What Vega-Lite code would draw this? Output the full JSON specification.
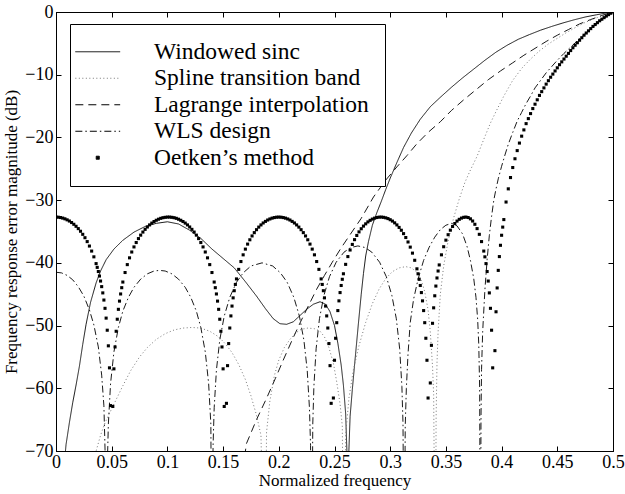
{
"$schema":"https://vega.github.io/schema/vega-lite/v6.json",
"width":557,"height":439,"autosize":"none",
"padding":{"left":56,"top":12,"right":12,"bottom":43},
"config":{
 "font":"Liberation Serif",
 "view":{"stroke":"black","strokeWidth":1},
 "axis":{"grid":false,"domainColor":"black","tickColor":"black","labelColor":"black","titleColor":"black","labelFont":"Liberation Serif","titleFont":"Liberation Serif","labelFontSize":18,"titleFontSize":17,"titleFontWeight":"normal","tickSize":-5,"labelFlush":false,"labelOverlap":false},
 "legend":{"orient":"none","legendX":14,"legendY":12,"padding":16,"strokeColor":"black","fillColor":"white","labelFont":"Liberation Serif","labelFontSize":23.5,"labelColor":"black","labelLimit":400,"labelOffset":44.5,"rowPadding":1.5,"symbolSize":31.4,"symbolStrokeWidth":1,"symbolFillColor":"black"}
},
"layer":[
 {
  "encoding":{
   "x":{"field":"f","type":"quantitative","scale":{"domain":[0,0.5]},"axis":{"orient":"bottom","values":[0,0.05,0.1,0.15,0.2,0.25,0.3,0.35,0.4,0.45,0.5],"format":"~g","title":"Normalized frequency","labelPadding":7,"titlePadding":1}},
   "y":{"field":"v","type":"quantitative","scale":{"domain":[-70,0]},"axis":{"orient":"left","values":[-70,-60,-50,-40,-30,-20,-10,0],"title":"Frequency response error magnitude (dB)","labelPadding":8,"titlePadding":4}}
  },
  "layer":[
   {
    "data":{"values":[{"f":0.005,"v":-78},{"f":0.0075,"v":-72},{"f":0.009,"v":-69},{"f":0.012,"v":-65.5},{"f":0.015,"v":-62.3},{"f":0.018,"v":-59.5},{"f":0.021,"v":-56.5},{"f":0.024,"v":-53},{"f":0.027,"v":-49.8},{"f":0.031,"v":-46.3},{"f":0.036,"v":-43.2},{"f":0.04,"v":-41.3},{"f":0.045,"v":-39.5},{"f":0.052,"v":-37.8},{"f":0.06,"v":-36.4},{"f":0.07,"v":-35.1},{"f":0.08,"v":-34.2},{"f":0.09,"v":-33.7},{"f":0.1,"v":-33.45},{"f":0.11,"v":-33.8},{"f":0.12,"v":-34.8},{"f":0.13,"v":-36.1},{"f":0.14,"v":-37.8},{"f":0.15,"v":-39.3},{"f":0.16,"v":-40.8},{"f":0.17,"v":-43},{"f":0.18,"v":-45.3},{"f":0.188,"v":-47.3},{"f":0.195,"v":-48.9},{"f":0.201,"v":-49.7},{"f":0.207,"v":-49.8},{"f":0.213,"v":-49.4},{"f":0.219,"v":-48.4},{"f":0.225,"v":-47.4},{"f":0.231,"v":-46.6},{"f":0.237,"v":-46.2},{"f":0.242,"v":-46.6},{"f":0.246,"v":-47.8},{"f":0.25,"v":-50},{"f":0.253,"v":-52.8},{"f":0.256,"v":-56.3},{"f":0.258,"v":-59.5},{"f":0.26,"v":-64},{"f":0.2615,"v":-72},{"f":0.262,"v":-95},{"f":0.2625,"v":-72},{"f":0.264,"v":-64.5},{"f":0.266,"v":-60.2},{"f":0.268,"v":-56.3},{"f":0.2715,"v":-49.6},{"f":0.274,"v":-45},{"f":0.276,"v":-41.7},{"f":0.278,"v":-38.9},{"f":0.2805,"v":-36.6},{"f":0.284,"v":-34},{"f":0.288,"v":-32},{"f":0.292,"v":-30.2},{"f":0.296,"v":-28.3},{"f":0.3,"v":-26.5},{"f":0.306,"v":-24},{"f":0.312,"v":-21.6},{"f":0.319,"v":-19.3},{"f":0.327,"v":-17.1},{"f":0.336,"v":-15.1},{"f":0.345,"v":-13.6},{"f":0.355,"v":-12},{"f":0.365,"v":-10.5},{"f":0.375,"v":-9.1},{"f":0.385,"v":-7.7},{"f":0.395,"v":-6.4},{"f":0.405,"v":-5.3},{"f":0.415,"v":-4.35},{"f":0.425,"v":-3.6},{"f":0.435,"v":-2.9},{"f":0.445,"v":-2.3},{"f":0.455,"v":-1.75},{"f":0.465,"v":-1.25},{"f":0.475,"v":-0.8},{"f":0.485,"v":-0.45},{"f":0.495,"v":-0.12},{"f":0.5,"v":0}]},
    "mark":{"type":"line","clip":true,"strokeWidth":0.9},
    "encoding":{
     "strokeDash":{"datum":"Windowed sinc","type":"nominal","scale":{"domain":["Windowed sinc","Spline transition band","Lagrange interpolation","WLS design","Oetken’s method"],"range":[[1,0],[1,2.5],[8,5],[7,3,1.5,3],[1,0]]},"legend":{"title":null}},
     "stroke":{"datum":"Windowed sinc","type":"nominal","scale":{"domain":["Windowed sinc","Spline transition band","Lagrange interpolation","WLS design","Oetken’s method"],"range":["black","#777777","black","black","black"]},"legend":{"title":null}}
    }
   },
   {
    "data":{"values":[{"f":0.031,"v":-90},{"f":0.034,"v":-73},{"f":0.036,"v":-70},{"f":0.04,"v":-67.5},{"f":0.044,"v":-65.5},{"f":0.048,"v":-64},{"f":0.054,"v":-61.8},{"f":0.06,"v":-59.6},{"f":0.067,"v":-57.2},{"f":0.075,"v":-55},{"f":0.082,"v":-53.5},{"f":0.09,"v":-52.2},{"f":0.098,"v":-51.3},{"f":0.106,"v":-50.7},{"f":0.114,"v":-50.4},{"f":0.122,"v":-50.3},{"f":0.13,"v":-50.4},{"f":0.138,"v":-50.9},{"f":0.146,"v":-51.8},{"f":0.152,"v":-52.9},{"f":0.158,"v":-54.3},{"f":0.164,"v":-56.2},{"f":0.17,"v":-58.6},{"f":0.175,"v":-61.2},{"f":0.18,"v":-64.3},{"f":0.184,"v":-67.5},{"f":0.1875,"v":-95},{"f":0.189,"v":-67},{"f":0.192,"v":-62},{"f":0.196,"v":-58},{"f":0.2,"v":-55.5},{"f":0.205,"v":-53.5},{"f":0.21,"v":-52.2},{"f":0.215,"v":-51.2},{"f":0.22,"v":-50.6},{"f":0.226,"v":-50.4},{"f":0.232,"v":-50.5},{"f":0.237,"v":-50.9},{"f":0.241,"v":-51.8},{"f":0.245,"v":-53.5},{"f":0.249,"v":-56},{"f":0.252,"v":-59},{"f":0.255,"v":-62.5},{"f":0.257,"v":-66},{"f":0.2585,"v":-95},{"f":0.26,"v":-67.5},{"f":0.263,"v":-61.5},{"f":0.267,"v":-57},{"f":0.272,"v":-53.2},{"f":0.278,"v":-49.5},{"f":0.284,"v":-46.5},{"f":0.29,"v":-44.2},{"f":0.296,"v":-42.5},{"f":0.302,"v":-41.4},{"f":0.308,"v":-40.8},{"f":0.314,"v":-40.6},{"f":0.319,"v":-40.8},{"f":0.324,"v":-41.5},{"f":0.328,"v":-42.8},{"f":0.331,"v":-44.6},{"f":0.334,"v":-47.5},{"f":0.336,"v":-51},{"f":0.338,"v":-56.5},{"f":0.339,"v":-61},{"f":0.3405,"v":-95},{"f":0.3412,"v":-65},{"f":0.342,"v":-56},{"f":0.343,"v":-51},{"f":0.345,"v":-45},{"f":0.348,"v":-40.5},{"f":0.352,"v":-36.5},{"f":0.357,"v":-32.8},{"f":0.362,"v":-29.8},{"f":0.367,"v":-27.2},{"f":0.372,"v":-25.2},{"f":0.378,"v":-23},{"f":0.384,"v":-20.3},{"f":0.39,"v":-17.7},{"f":0.396,"v":-15.5},{"f":0.402,"v":-13.4},{"f":0.41,"v":-10.9},{"f":0.418,"v":-9},{"f":0.426,"v":-7.5},{"f":0.434,"v":-6.2},{"f":0.442,"v":-5.1},{"f":0.45,"v":-4.2},{"f":0.458,"v":-3.3},{"f":0.466,"v":-2.5},{"f":0.474,"v":-1.75},{"f":0.482,"v":-1.15},{"f":0.49,"v":-0.6},{"f":0.496,"v":-0.25},{"f":0.5,"v":0}]},
    "mark":{"type":"line","clip":true,"strokeWidth":1},
    "encoding":{
     "strokeDash":{"datum":"Spline transition band","type":"nominal","scale":{"domain":["Windowed sinc","Spline transition band","Lagrange interpolation","WLS design","Oetken’s method"],"range":[[1,0],[1,2.5],[8,5],[7,3,1.5,3],[1,0]]},"legend":{"title":null}},
     "stroke":{"datum":"Spline transition band","type":"nominal","scale":{"domain":["Windowed sinc","Spline transition band","Lagrange interpolation","WLS design","Oetken’s method"],"range":["black","#777777","black","black","black"]},"legend":{"title":null}}
    }
   },
   {
    "data":{"values":[{"f":0.166,"v":-75},{"f":0.171,"v":-68.8},{"f":0.18,"v":-65},{"f":0.189,"v":-61.6},{"f":0.197,"v":-58.4},{"f":0.204,"v":-55.5},{"f":0.212,"v":-52.3},{"f":0.219,"v":-49.6},{"f":0.227,"v":-46.7},{"f":0.234,"v":-44.2},{"f":0.241,"v":-42},{"f":0.248,"v":-39.9},{"f":0.256,"v":-37.6},{"f":0.264,"v":-35.5},{"f":0.274,"v":-32.9},{"f":0.285,"v":-29.5},{"f":0.296,"v":-26.8},{"f":0.306,"v":-24.7},{"f":0.315,"v":-22.9},{"f":0.324,"v":-21},{"f":0.334,"v":-19.2},{"f":0.345,"v":-17.5},{"f":0.355,"v":-15.7},{"f":0.366,"v":-14},{"f":0.377,"v":-12.4},{"f":0.388,"v":-10.8},{"f":0.399,"v":-9.4},{"f":0.41,"v":-8.1},{"f":0.42,"v":-6.9},{"f":0.43,"v":-5.8},{"f":0.44,"v":-4.7},{"f":0.45,"v":-3.7},{"f":0.46,"v":-2.8},{"f":0.47,"v":-1.9},{"f":0.48,"v":-1.2},{"f":0.49,"v":-0.55},{"f":0.5,"v":0}]},
    "mark":{"type":"line","clip":true,"strokeWidth":0.9},
    "encoding":{
     "strokeDash":{"datum":"Lagrange interpolation","type":"nominal","scale":{"domain":["Windowed sinc","Spline transition band","Lagrange interpolation","WLS design","Oetken’s method"],"range":[[1,0],[1,2.5],[8,5],[7,3,1.5,3],[1,0]]},"legend":{"title":null}},
     "stroke":{"datum":"Lagrange interpolation","type":"nominal","scale":{"domain":["Windowed sinc","Spline transition band","Lagrange interpolation","WLS design","Oetken’s method"],"range":["black","#777777","black","black","black"]},"legend":{"title":null}}
    }
   },
   {
    "data":{"values":[{"f":0,"v":-41.5},{"f":0.005,"v":-41.6},{"f":0.01,"v":-42},{"f":0.015,"v":-42.7},{"f":0.02,"v":-43.8},{"f":0.025,"v":-45.3},{"f":0.03,"v":-47.5},{"f":0.034,"v":-49.9},{"f":0.038,"v":-53.4},{"f":0.041,"v":-57.9},{"f":0.043,"v":-62.8},{"f":0.0445,"v":-73},{"f":0.0452,"v":-95},{"f":0.046,"v":-72.7},{"f":0.047,"v":-65.7},{"f":0.049,"v":-59.2},{"f":0.052,"v":-54.2},{"f":0.056,"v":-50.3},{"f":0.06,"v":-47.7},{"f":0.065,"v":-45.5},{"f":0.07,"v":-43.9},{"f":0.076,"v":-42.6},{"f":0.082,"v":-41.75},{"f":0.088,"v":-41.3},{"f":0.093,"v":-41.2},{"f":0.098,"v":-41.3},{"f":0.104,"v":-41.75},{"f":0.11,"v":-42.6},{"f":0.116,"v":-43.9},{"f":0.121,"v":-45.5},{"f":0.126,"v":-47.7},{"f":0.13,"v":-50.3},{"f":0.134,"v":-54.2},{"f":0.137,"v":-59.2},{"f":0.139,"v":-65.7},{"f":0.14,"v":-95},{"f":0.141,"v":-69.1},{"f":0.142,"v":-63.1},{"f":0.144,"v":-57.1},{"f":0.147,"v":-52.3},{"f":0.151,"v":-48.5},{"f":0.156,"v":-45.5},{"f":0.162,"v":-43.1},{"f":0.168,"v":-41.6},{"f":0.175,"v":-40.5},{"f":0.185,"v":-40},{"f":0.1945,"v":-40.5},{"f":0.2015,"v":-41.6},{"f":0.2075,"v":-43.1},{"f":0.2135,"v":-45.5},{"f":0.2185,"v":-48.5},{"f":0.2225,"v":-52.3},{"f":0.2255,"v":-57.1},{"f":0.2275,"v":-63.1},{"f":0.2285,"v":-69.1},{"f":0.2295,"v":-95},{"f":0.2305,"v":-65.7},{"f":0.2315,"v":-59.7},{"f":0.2335,"v":-53.7},{"f":0.2365,"v":-48.9},{"f":0.2405,"v":-45.2},{"f":0.2455,"v":-42.2},{"f":0.2515,"v":-39.9},{"f":0.2585,"v":-38.3},{"f":0.2645,"v":-37.56},{"f":0.271,"v":-37.3},{"f":0.2775,"v":-37.56},{"f":0.2835,"v":-38.3},{"f":0.2905,"v":-39.9},{"f":0.2965,"v":-42.2},{"f":0.3015,"v":-45.2},{"f":0.3055,"v":-48.9},{"f":0.3085,"v":-53.7},{"f":0.3105,"v":-59.7},{"f":0.3115,"v":-65.7},{"f":0.3125,"v":-95},{"f":0.3135,"v":-66},{"f":0.3145,"v":-60},{"f":0.316,"v":-54.5},{"f":0.318,"v":-49.5},{"f":0.321,"v":-45.8},{"f":0.325,"v":-42.6},{"f":0.33,"v":-39.6},{"f":0.335,"v":-37.5},{"f":0.34,"v":-35.9},{"f":0.345,"v":-34.7},{"f":0.35,"v":-34},{"f":0.355,"v":-33.7},{"f":0.36,"v":-34.1},{"f":0.365,"v":-35.4},{"f":0.369,"v":-37.4},{"f":0.372,"v":-39.6},{"f":0.375,"v":-42.5},{"f":0.377,"v":-45.5},{"f":0.3785,"v":-49},{"f":0.3795,"v":-53},{"f":0.3803,"v":-60},{"f":0.381,"v":-95},{"f":0.3815,"v":-65},{"f":0.382,"v":-57},{"f":0.383,"v":-51},{"f":0.385,"v":-44.3},{"f":0.387,"v":-39.5},{"f":0.389,"v":-35.6},{"f":0.391,"v":-32.6},{"f":0.393,"v":-30},{"f":0.395,"v":-28.2},{"f":0.397,"v":-26.6},{"f":0.4,"v":-24.6},{"f":0.403,"v":-22.8},{"f":0.406,"v":-21.1},{"f":0.41,"v":-19.2},{"f":0.414,"v":-17.4},{"f":0.418,"v":-16},{"f":0.422,"v":-14.6},{"f":0.426,"v":-13.4},{"f":0.43,"v":-12.1},{"f":0.435,"v":-10.9},{"f":0.44,"v":-9.7},{"f":0.445,"v":-8.7},{"f":0.45,"v":-7.7},{"f":0.456,"v":-6.6},{"f":0.462,"v":-5.6},{"f":0.468,"v":-4.6},{"f":0.474,"v":-3.6},{"f":0.48,"v":-2.7},{"f":0.486,"v":-1.8},{"f":0.492,"v":-1},{"f":0.496,"v":-0.5},{"f":0.5,"v":0}]},
    "mark":{"type":"line","clip":true,"strokeWidth":0.9},
    "encoding":{
     "strokeDash":{"datum":"WLS design","type":"nominal","scale":{"domain":["Windowed sinc","Spline transition band","Lagrange interpolation","WLS design","Oetken’s method"],"range":[[1,0],[1,2.5],[8,5],[7,3,1.5,3],[1,0]]},"legend":{"title":null}},
     "stroke":{"datum":"WLS design","type":"nominal","scale":{"domain":["Windowed sinc","Spline transition band","Lagrange interpolation","WLS design","Oetken’s method"],"range":["black","#777777","black","black","black"]},"legend":{"title":null}}
    }
   }
  ]
 },
 {
  "data":{"values":[{"f":0,"v":-32.7},{"f":0.002,"v":-32.72},{"f":0.004,"v":-32.77},{"f":0.006,"v":-32.86},{"f":0.008,"v":-32.98},{"f":0.01,"v":-33.14},{"f":0.012,"v":-33.33},{"f":0.014,"v":-33.57},{"f":0.016,"v":-33.85},{"f":0.018,"v":-34.17},{"f":0.02,"v":-34.54},{"f":0.022,"v":-34.96},{"f":0.024,"v":-35.45},{"f":0.026,"v":-35.99},{"f":0.028,"v":-36.61},{"f":0.03,"v":-37.32},{"f":0.032,"v":-38.12},{"f":0.034,"v":-39.04},{"f":0.036,"v":-40.12},{"f":0.037,"v":-40.72},{"f":0.038,"v":-41.38},{"f":0.039,"v":-42.1},{"f":0.04,"v":-42.9},{"f":0.041,"v":-43.79},{"f":0.042,"v":-44.79},{"f":0.043,"v":-45.93},{"f":0.044,"v":-47.25},{"f":0.045,"v":-48.81},{"f":0.046,"v":-50.74},{"f":0.047,"v":-53.23},{"f":0.048,"v":-56.74},{"f":0.049,"v":-62.76},
  {"f":0.051,"v":-62.9},{"f":0.052,"v":-56.9},{"f":0.053,"v":-53.41},{"f":0.054,"v":-50.91},{"f":0.055,"v":-48.99},{"f":0.056,"v":-47.41},{"f":0.057,"v":-46.1},{"f":0.058,"v":-44.96},{"f":0.059,"v":-43.96},{"f":0.06,"v":-43.06},{"f":0.062,"v":-41.54},{"f":0.064,"v":-40.28},{"f":0.066,"v":-39.2},{"f":0.068,"v":-38.27},{"f":0.07,"v":-37.46},{"f":0.072,"v":-36.76},{"f":0.074,"v":-36.13},{"f":0.076,"v":-35.58},{"f":0.078,"v":-35.09},{"f":0.08,"v":-34.66},{"f":0.082,"v":-34.28},{"f":0.084,"v":-33.95},{"f":0.086,"v":-33.66},{"f":0.088,"v":-33.41},{"f":0.09,"v":-33.21},{"f":0.092,"v":-33.04},{"f":0.094,"v":-32.9},{"f":0.096,"v":-32.8},{"f":0.098,"v":-32.74},{"f":0.1,"v":-32.7},{"f":0.102,"v":-32.7},{"f":0.104,"v":-32.74},{"f":0.106,"v":-32.8},{"f":0.108,"v":-32.9},{"f":0.11,"v":-33.04},{"f":0.112,"v":-33.21},{"f":0.114,"v":-33.41},{"f":0.116,"v":-33.66},{"f":0.118,"v":-33.95},{"f":0.12,"v":-34.28},{"f":0.122,"v":-34.66},{"f":0.124,"v":-35.09},{"f":0.126,"v":-35.58},{"f":0.128,"v":-36.13},{"f":0.13,"v":-36.76},{"f":0.132,"v":-37.46},{"f":0.134,"v":-38.27},{"f":0.136,"v":-39.2},{"f":0.138,"v":-40.28},{"f":0.14,"v":-41.54},{"f":0.142,"v":-43.06},{"f":0.143,"v":-43.96},{"f":0.144,"v":-44.96},{"f":0.145,"v":-46.1},{"f":0.146,"v":-47.41},{"f":0.147,"v":-48.99},{"f":0.148,"v":-50.91},{"f":0.149,"v":-53.41},{"f":0.15,"v":-56.9},{"f":0.151,"v":-62.9},
  {"f":0.153,"v":-62.4},{"f":0.154,"v":-56.39},{"f":0.155,"v":-52.87},{"f":0.156,"v":-50.39},{"f":0.157,"v":-48.46},{"f":0.158,"v":-46.89},{"f":0.159,"v":-45.58},{"f":0.16,"v":-44.44},{"f":0.161,"v":-43.44},{"f":0.162,"v":-42.56},{"f":0.164,"v":-41.04},{"f":0.166,"v":-39.79},{"f":0.168,"v":-38.72},{"f":0.17,"v":-37.81},{"f":0.172,"v":-37.01},{"f":0.174,"v":-36.32},{"f":0.176,"v":-35.71},{"f":0.178,"v":-35.18},{"f":0.18,"v":-34.71},{"f":0.182,"v":-34.3},{"f":0.184,"v":-33.95},{"f":0.186,"v":-33.64},{"f":0.188,"v":-33.39},{"f":0.19,"v":-33.17},{"f":0.192,"v":-33},{"f":0.194,"v":-32.87},{"f":0.196,"v":-32.78},{"f":0.198,"v":-32.72},{"f":0.2,"v":-32.7},{"f":0.202,"v":-32.72},{"f":0.204,"v":-32.78},{"f":0.206,"v":-32.87},{"f":0.208,"v":-33},{"f":0.21,"v":-33.17},{"f":0.212,"v":-33.39},{"f":0.214,"v":-33.64},{"f":0.216,"v":-33.95},{"f":0.218,"v":-34.3},{"f":0.22,"v":-34.71},{"f":0.222,"v":-35.18},{"f":0.224,"v":-35.71},{"f":0.226,"v":-36.32},{"f":0.228,"v":-37.01},{"f":0.23,"v":-37.81},{"f":0.232,"v":-38.72},{"f":0.234,"v":-39.79},{"f":0.236,"v":-41.04},{"f":0.238,"v":-42.56},{"f":0.239,"v":-43.44},{"f":0.24,"v":-44.44},{"f":0.241,"v":-45.58},{"f":0.242,"v":-46.89},{"f":0.243,"v":-48.46},{"f":0.244,"v":-50.39},{"f":0.245,"v":-52.87},{"f":0.246,"v":-56.39},{"f":0.247,"v":-62.4},
  {"f":0.249,"v":-61.55},{"f":0.25,"v":-55.53},{"f":0.251,"v":-52.02},{"f":0.252,"v":-49.54},{"f":0.253,"v":-47.61},{"f":0.254,"v":-46.06},{"f":0.255,"v":-44.74},{"f":0.256,"v":-43.61},{"f":0.257,"v":-42.62},{"f":0.258,"v":-41.74},{"f":0.26,"v":-40.24},{"f":0.262,"v":-39},{"f":0.264,"v":-37.95},{"f":0.266,"v":-37.06},{"f":0.268,"v":-36.3},{"f":0.27,"v":-35.63},{"f":0.272,"v":-35.06},{"f":0.274,"v":-34.56},{"f":0.276,"v":-34.14},{"f":0.278,"v":-33.78},{"f":0.28,"v":-33.47},{"f":0.282,"v":-33.22},{"f":0.284,"v":-33.02},{"f":0.286,"v":-32.87},{"f":0.288,"v":-32.77},{"f":0.29,"v":-32.71},{"f":0.292,"v":-32.7},{"f":0.294,"v":-32.74},{"f":0.296,"v":-32.82},{"f":0.298,"v":-32.94},{"f":0.3,"v":-33.12},{"f":0.302,"v":-33.34},{"f":0.304,"v":-33.62},{"f":0.306,"v":-33.95},{"f":0.308,"v":-34.35},{"f":0.31,"v":-34.8},{"f":0.312,"v":-35.34},{"f":0.314,"v":-35.96},{"f":0.316,"v":-36.67},{"f":0.318,"v":-37.49},{"f":0.32,"v":-38.45},{"f":0.322,"v":-39.59},{"f":0.324,"v":-40.95},{"f":0.325,"v":-41.74},{"f":0.326,"v":-42.63},{"f":0.327,"v":-43.61},{"f":0.328,"v":-44.74},{"f":0.329,"v":-46.06},{"f":0.33,"v":-47.61},{"f":0.331,"v":-49.54},{"f":0.332,"v":-52.02},{"f":0.333,"v":-55.53},{"f":0.334,"v":-61.55},
  {"f":0.336,"v":-59.15},{"f":0.337,"v":-53.15},{"f":0.338,"v":-49.64},{"f":0.339,"v":-47.17},{"f":0.34,"v":-45.25},{"f":0.341,"v":-43.7},{"f":0.342,"v":-42.41},{"f":0.343,"v":-41.3},{"f":0.344,"v":-40.33},{"f":0.346,"v":-38.72},{"f":0.348,"v":-37.43},{"f":0.35,"v":-36.38},{"f":0.352,"v":-35.51},{"f":0.354,"v":-34.79},{"f":0.356,"v":-34.2},{"f":0.358,"v":-33.73},{"f":0.36,"v":-33.34},{"f":0.362,"v":-33.06},{"f":0.364,"v":-32.86},{"f":0.366,"v":-32.74},{"f":0.368,"v":-32.7},{"f":0.37,"v":-32.77},{"f":0.372,"v":-32.98},{"f":0.374,"v":-33.33},{"f":0.376,"v":-33.85},{"f":0.378,"v":-34.54},{"f":0.38,"v":-35.45},{"f":0.382,"v":-36.61},{"f":0.384,"v":-38.12},{"f":0.385,"v":-39.04},{"f":0.386,"v":-40.12},{"f":0.387,"v":-41.38},{"f":0.388,"v":-42.9},{"f":0.389,"v":-44.79},{"f":0.39,"v":-47.25},{"f":0.391,"v":-50.74},{"f":0.392,"v":-56.74},
  {"f":0.394,"v":-54},{"f":0.395,"v":-47.8},{"f":0.396,"v":-44},{"f":0.397,"v":-41.2},{"f":0.398,"v":-39},{"f":0.399,"v":-37.2},{"f":0.4,"v":-35.6},{"f":0.401,"v":-34.3},{"f":0.402,"v":-33.1},{"f":0.404,"v":-30.3},{"f":0.406,"v":-28.2},{"f":0.408,"v":-26.4},{"f":0.41,"v":-24.8},{"f":0.412,"v":-23.4},{"f":0.414,"v":-22.1},{"f":0.416,"v":-20.9},{"f":0.418,"v":-19.8},{"f":0.42,"v":-18.8},{"f":0.422,"v":-17.8},{"f":0.424,"v":-17},{"f":0.426,"v":-16.2},{"f":0.428,"v":-15.4},{"f":0.43,"v":-14.7},{"f":0.432,"v":-14},{"f":0.434,"v":-13.3},{"f":0.436,"v":-12.7},{"f":0.438,"v":-12.1},{"f":0.44,"v":-11.5},{"f":0.442,"v":-10.95},{"f":0.444,"v":-10.4},{"f":0.446,"v":-9.9},{"f":0.448,"v":-9.4},{"f":0.45,"v":-8.9},{"f":0.452,"v":-8.4},{"f":0.454,"v":-7.95},{"f":0.456,"v":-7.5},{"f":0.458,"v":-7.05},{"f":0.46,"v":-6.6},{"f":0.462,"v":-6.15},{"f":0.464,"v":-5.7},{"f":0.466,"v":-5.3},{"f":0.468,"v":-4.9},{"f":0.47,"v":-4.5},{"f":0.472,"v":-4.1},{"f":0.474,"v":-3.7},{"f":0.476,"v":-3.35},{"f":0.478,"v":-3},{"f":0.48,"v":-2.65},{"f":0.482,"v":-2.3},{"f":0.484,"v":-2},{"f":0.486,"v":-1.7},{"f":0.488,"v":-1.4},{"f":0.49,"v":-1.15},{"f":0.492,"v":-0.9},{"f":0.494,"v":-0.65},{"f":0.496,"v":-0.42},{"f":0.498,"v":-0.2},{"f":0.5,"v":0}]},
  "mark":{"type":"point","filled":true,"size":31.4,"color":"black","strokeWidth":0,"opacity":1,"clip":true},
  "encoding":{
   "x":{"field":"f","type":"quantitative","scale":{"domain":[0,0.5]},"axis":{"orient":"top","values":[0,0.05,0.1,0.15,0.2,0.25,0.3,0.35,0.4,0.45,0.5],"labels":false,"title":null}},
   "y":{"field":"v","type":"quantitative","scale":{"domain":[-70,0]},"axis":{"orient":"right","values":[-70,-60,-50,-40,-30,-20,-10,0],"labels":false,"title":null}},
   "shape":{"datum":"Oetken’s method","type":"nominal","scale":{"domain":["Windowed sinc","Spline transition band","Lagrange interpolation","WLS design","Oetken’s method"],"range":["M-8,0H8","M-8,0H8","M-8,0H8","M-8,0H8","M-0.55,-0.55H0.55V0.55H-0.55Z"]},"legend":{"title":null}}
  }
 }
]
}
